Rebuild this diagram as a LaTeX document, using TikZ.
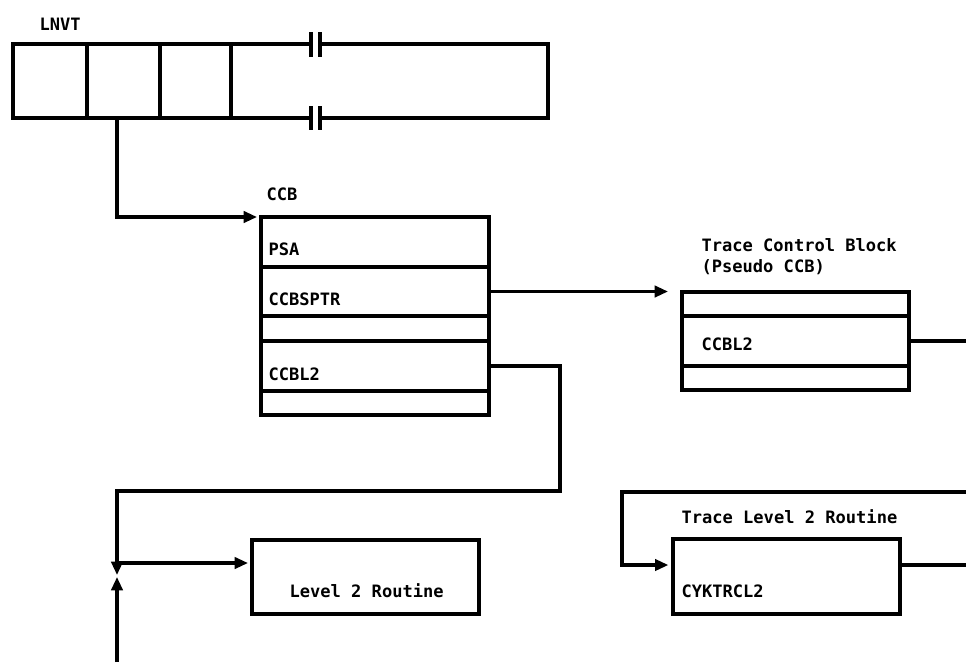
\documentclass[tikz,border=0pt]{standalone}
\usepackage{fontspec}
\setmainfont{DejaVu Sans Mono}
\usetikzlibrary{arrows.meta,fit}
\begin{document}
\begin{tikzpicture}[x=0.75pt,y=-0.75pt,
  line width=2.3pt,
  box/.style={draw, inner sep=0pt, outer sep=0pt},
  lbl/.style={anchor=base west, inner sep=0pt, font=\bfseries\fontsize{12.8}{15}\selectfont},
  arr/.style={-{Triangle[length=10pt,width=8.5pt]}}]
\useasboundingbox (0,0) rectangle (966,662);

% LNVT
\node[lbl] (lnvtlbl) at (38,30) {LNVT};
\node[box, fit={(13,44) (87,118)}] (c1) {};
\node[box, fit={(87,44) (160,118)}] (c2) {};
\node[box, fit={(160,44) (231,118)}] (c3) {};
\coordinate (bt1) at (311,44);
\coordinate (bt2) at (320,44);
\coordinate (bb1) at (311,118);
\coordinate (bb2) at (320,118);
\coordinate (rtop) at (548,44);
\coordinate (rbot) at (548,118);
\draw (c3.north east) -- (bt1) (bt2) -- (rtop) -- (rbot) -- (bb2) (bb1) -- (c3.south east);
\draw (311,32) -- (311,57) (320,32) -- (320,57) (311,106) -- (311,130) (320,106) -- (320,130);

% CCB
\node[lbl] (ccblbl) at (265,200) {CCB};
\node[box, fit={(261,217) (489,267)}] (psa) {};
\node[box, fit={(261,267) (489,316)}] (sptr) {};
\node[box, fit={(261,316) (489,341)}] (cb1) {};
\node[box, fit={(261,341) (489,391)}] (l2) {};
\node[box, fit={(261,391) (489,415)}] (cb2) {};
\node[lbl] (psat) at (267,255) {PSA};
\node[lbl] (sptrt) at (267,305) {CCBSPTR};
\node[lbl] (l2t) at (267,380) {CCBL2};

% Trace control block
\node[lbl] (tcbl1) at (700,251) {Trace Control Block};
\node[lbl] (tcbl2) at (700,272) {(Pseudo CCB)};
\node[box, fit={(682,292) (909,316)}] (t1) {};
\node[box, fit={(682,316) (909,366)}] (t2) {};
\node[box, fit={(682,366) (909,390)}] (t3) {};
\node[lbl] (t2t) at (700,350) {CCBL2};

% Level 2 routine
\node[box, fit={(252,540) (479,614)}] (lvl2) {};
\node[lbl] (lvl2t) at (288,597) {Level 2 Routine};

% Trace level 2 routine
\node[lbl] (tl2lbl) at (680,523) {Trace Level 2 Routine};
\node[box, fit={(673,539) (900,614)}] (tl2) {};
\node[lbl] (tl2t) at (680,597) {CYKTRCL2};

% connectors
\coordinate (lnvtout) at (117,118);
\draw[arr, shorten >=3pt] (lnvtout) |- (psa.north west);
\draw[arr, shorten >=10.5pt] (sptr.east) -- (sptr.east -| t1.west);
\coordinate (tcbout) at (966,341);
\draw (t2.east) -- (tcbout);

\coordinate (turn) at (560,491);
\coordinate (down) at (117,575);
\draw[arr] (l2.east) -| (turn) -| (down);
\coordinate (upstart) at (117,662);
\coordinate (up) at (117,577);
\draw[arr] (upstart) -- (up);
\coordinate (j) at (117,563);
\draw[arr, shorten >=3pt] (j) -- (j -| lvl2.west);

\coordinate (tin) at (966,492);
\coordinate (k) at (622,565);
\draw[arr, shorten >=3.5pt] (tin) -| (k) -- (k -| tl2.west);
\coordinate (tl2out) at (966,565);
\draw (k -| tl2.east) -- (tl2out);
\end{tikzpicture}
\end{document}
